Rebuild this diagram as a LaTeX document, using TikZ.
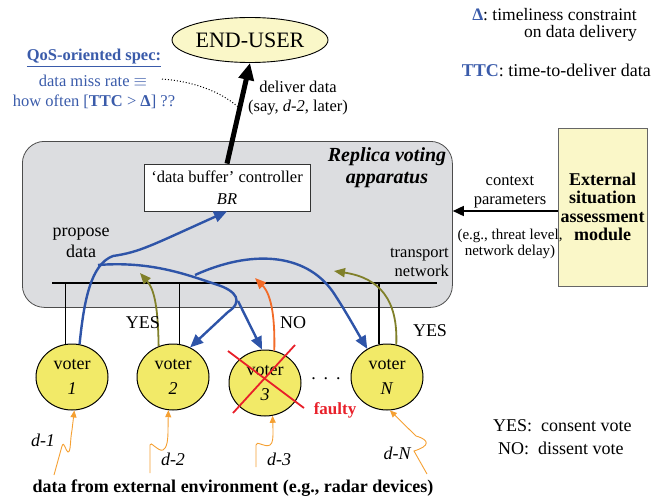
\documentclass[tikz,border=0pt]{standalone}
\usepackage{fontspec}
\setmainfont{Liberation Serif}
\usetikzlibrary{arrows.meta,shapes.geometric,calc}
\definecolor{vblue}{RGB}{46,84,168}
\definecolor{qblue}{RGB}{58,91,170}
\definecolor{volive}{RGB}{128,128,42}
\definecolor{vorange}{RGB}{242,107,40}
\definecolor{wavy}{RGB}{245,160,50}
\definecolor{vred}{RGB}{232,32,42}
\definecolor{boxgray}{RGB}{220,221,224}
\definecolor{voteryellow}{RGB}{242,234,104}
\definecolor{paleyellow}{RGB}{250,247,200}
\begin{document}
\begin{tikzpicture}[x=1pt,y=-1pt,
  txt/.style={inner sep=0pt, font=\fontsize{16.5}{19}\selectfont},
  bigtxt/.style={inner sep=0pt, font=\fontsize{18}{21}\selectfont},
  voter/.style={ellipse, draw=black, line width=1, fill=voteryellow,
    minimum width=72, minimum height=66, inner sep=0pt, align=center,
    font=\fontsize{18}{25}\selectfont},
  bluearr/.style={draw=vblue, line width=2.4, -{Triangle[length=13pt,width=11pt]}},
  olivearr/.style={draw=volive, line width=1.8, -{Triangle[length=11pt,width=9pt]}},
  orangearr/.style={draw=vorange, line width=1.8, -{Triangle[length=11pt,width=9pt]}},
  wavyarr/.style={draw=wavy, line width=0.9, -{Triangle[length=7pt,width=6pt]}},
  stem/.style={draw=black, line width=1.4},
  redx/.style={draw=vred, line width=1.8}
]
\useasboundingbox (0,0) rectangle (663,500);

% replica voting apparatus
\node[draw=black!70, line width=0.8, fill=boxgray, rounded corners=22pt,
      minimum width=430, minimum height=166, inner sep=0pt, anchor=north west]
      (rva) at (22,141) {};
\node[inner sep=0pt, align=center, font=\fontsize{20}{22}\selectfont\bfseries\itshape]
      (rvatitle) at (387,168) {Replica voting\\apparatus};

% end-user
\node[ellipse, draw=black, line width=0.9, fill=paleyellow, minimum width=156,
      minimum height=45, inner sep=0pt, font=\fontsize{22}{24}\selectfont]
      (eu) at (250,40) {END-USER};

% data buffer controller
\node[draw=black!80, line width=0.8, fill=white, minimum width=166, minimum height=47,
      inner sep=0pt, align=center, font=\fontsize{16.5}{22}\selectfont]
      (br) at (227,187.5) {‘data buffer’ controller\\\textit{BR}};

\draw[line width=5, -{Triangle[length=17pt,width=15pt]}] (br.north) -- (eu.south);
\node[txt, align=center] (deliver) at (298,98) {deliver data\\(say, \textit{d-2}, later)};

% QoS spec
\node[txt, text=qblue, font=\fontsize{16.5}{19}\selectfont\bfseries] (qos) at (94,58) {\underline{QoS-oriented spec:}};
\node[txt, text=qblue] (qos2) at (93,81) {data miss rate $\equiv$};
\node[txt, text=qblue] (qos3) at (94,102) {how often [\textbf{TTC} > \textbf{Δ}] ??};
\coordinate (dotA) at (162,79);
\coordinate (dotB) at ($(br.north)!0.55!(eu.south)$);
\draw[dotted, line width=1] (dotA) .. controls (200,82) and (225,95) .. (dotB);

% top right legend
\node[inner sep=0pt, align=right, anchor=east, font=\fontsize{17.5}{17.5}\selectfont]
      (delta) at (637,25) {\textcolor{qblue}{\textbf{Δ}}: timeliness constraint\\on data delivery};
\node[bigtxt, anchor=east] (ttc) at (651,70) {\textcolor{qblue}{\textbf{TTC}}: time-to-deliver data};

% external module
\node[draw=black!60, line width=0.9, fill=paleyellow, minimum width=89, minimum height=158,
      inner sep=0pt, align=center, font=\fontsize{18}{18.5}\selectfont\bfseries]
      (ext) at (602.5,207) {External\\situation\\assessment\\module};
\draw[line width=1.6, -{Triangle[length=11pt,width=10pt]}]
      ([yshift=-4pt]ext.west) -- ([yshift=-4pt]ext.west -| rva.east);
\node[txt, align=center] (ctx) at (510,192.5) {context\\parameters};
\node[txt, align=center, font=\fontsize{15}{16}\selectfont] (eg) at (510,244) {(e.g., threat level,\\network delay)};

% labels inside box
\node[bigtxt, align=center] (propose) at (81,243) {propose\\data};
\node[txt, align=right, anchor=east, font=\fontsize{16.5}{19}\selectfont] (tn) at (449,262) {transport\\network};

% voters
\node[voter] (v1) at (72,377) {voter\\\textit{1}};
\node[voter] (v2) at (173,377) {voter\\\textit{2}};
\node[voter] (v3) at (265,383) {voter\\\textit{3}};
\node[voter] (vN) at (387,377) {voter\\\textit{N}};
\node[inner sep=0pt, font=\fontsize{18}{20}\selectfont] (dots) at (326,379) {.\hspace{8pt}.\hspace{8pt}.};

% transport network line and stems
\coordinate (tnL) at (52,283);
\coordinate (tnR) at (437,283);
\draw[line width=1.8] (tnL) -- (tnR);
\draw[stem] (v1.101) -- (v1.101 |- tnL);
\draw[stem] (v2.79) -- (v2.79 |- tnL);
\draw[stem] (vN.104) -- (vN.104 |- tnL);

% votes
\draw[olivearr] (v2.115) .. controls (158,310) and (155,290) .. (140,273);
\draw[olivearr] (vN.74) .. controls (398,300) and (380,278) .. (334,271);
\draw[orangearr] (v3.74) .. controls (275,320) and (272,295) .. (255,278);
\node[bigtxt] (yes1) at (143,323) {YES};
\node[bigtxt] (no1) at (293,323) {NO};
\node[bigtxt] (yes2) at (430,331) {YES};

% proposals
\coordinate (p2) at (98,265);
\coordinate (split) at (238,301);
\coordinate (p3) at (195,275);
\draw[bluearr] (v1.77) .. controls (84,300) and (91,264) .. (113,256)
      .. controls (140,252) and (150,246) .. (br.south);
\draw[bluearr] (p2) .. controls (150,261) and (185,274) .. (215,284)
      .. controls (238,291) and (243,302) .. (228,312) -- (v2.60);
\draw[bluearr] (split) -- (v3.95);
\draw[bluearr] (p3) .. controls (250,250) and (305,252) .. (333,292)
      .. controls (345,310) and (356,330) .. (vN.125);

% faulty
\draw[redx] ($(v3)+(-37,-32)$) -- ($(v3)+(39,25)$);
\draw[redx] ($(v3)+(30,-38)$) -- ($(v3)+(-32,30)$);
\node[inner sep=0pt, text=vred, font=\fontsize{17}{19}\selectfont\bfseries] (faulty) at (335,410) {faulty};

% external data inputs
\coordinate (w1) at (54,475);
\coordinate (w2) at (150,473);
\coordinate (w3) at (256,467);
\coordinate (w4) at (427,474);
\draw[wavyarr] (w1) -- (62,446) .. controls (64,440) and (66,452) .. (68,452)
      .. controls (71,452) and (70,440) .. (72,430) -- (v1.-86);
\draw[wavyarr] (w2) -- (150,445) .. controls (150,440) and (158,452) .. (163,450)
      .. controls (167,448) and (168,440) .. (168,430) -- (v2.-98);
\draw[wavyarr] (w3) -- (256,445) .. controls (256,440) and (265,448) .. (270,445)
      .. controls (273,443) and (273,438) .. (273,430) -- (v3.-77);
\draw[wavyarr] (w4) -- (414,451) .. controls (430,446) and (430,440) .. (416,436) -- (vN.-85);
\node[bigtxt, font=\fontsize{18}{20}\selectfont\itshape] (d1) at (43,440) {d-1};
\node[bigtxt, font=\fontsize{18}{20}\selectfont\itshape] (d2) at (173,459) {d-2};
\node[bigtxt, font=\fontsize{18}{20}\selectfont\itshape] (d3) at (279,459) {d-3};
\node[bigtxt, font=\fontsize{18}{20}\selectfont\itshape] (dN) at (397,453) {d-N};
\node[bigtxt, font=\fontsize{18}{20}\selectfont\bfseries] (env) at (233,488) {data from external environment (e.g., radar devices)};

% vote legend
\node[bigtxt, anchor=west] (leg1) at (493,426) {YES:\ \ consent vote};
\node[bigtxt, anchor=west] (leg2) at (498,448) {NO:\ \ dissent vote};
\end{tikzpicture}
\end{document}
